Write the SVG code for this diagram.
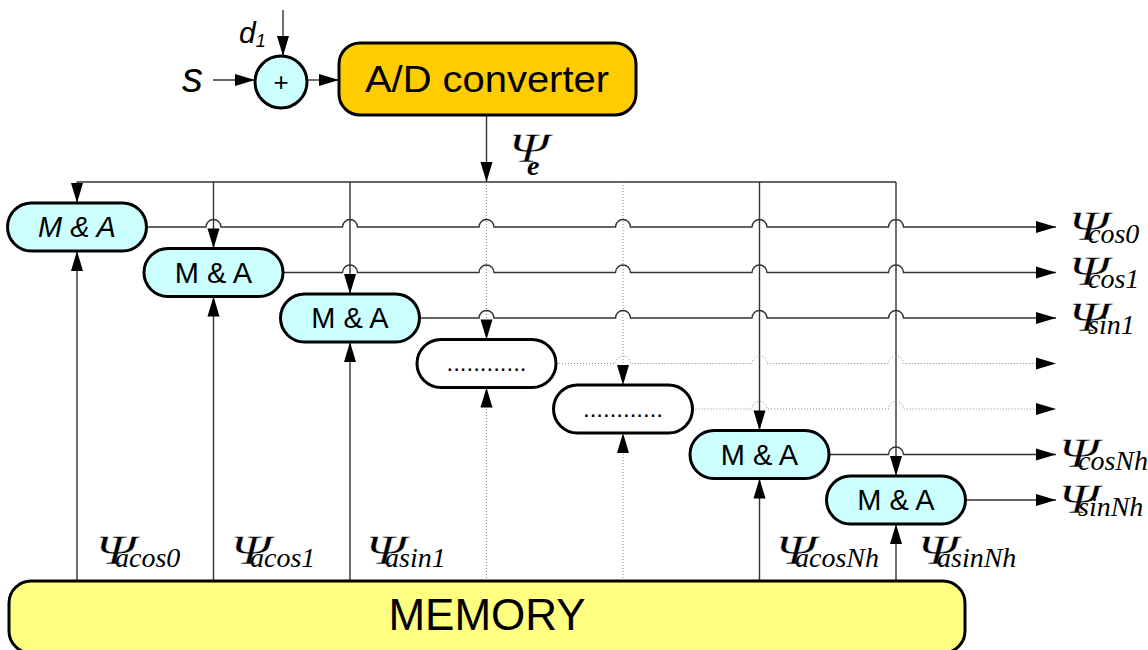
<svg xmlns="http://www.w3.org/2000/svg" width="1148" height="650" viewBox="0 0 1148 650">
<style>
.ln{fill:none;stroke:#333;stroke-width:1.4}
.dt{fill:none;stroke:#888;stroke-width:1;stroke-dasharray:1 2}
.box{stroke:#000;stroke-width:3}
.ma{fill:#CCFFFF}
.sans{font-family:"Liberation Sans",Arial,sans-serif;fill:#000}
.psi{font-family:"Liberation Serif","Times New Roman",serif;font-size:42px;fill:#000;stroke:#fff;stroke-width:0.4}
.sub{font-family:"Liberation Serif","Times New Roman",serif;font-style:italic;font-size:28px;fill:#000}
.mt{font-size:29px;text-anchor:middle}
</style>
<defs>
<marker id="ah" markerUnits="userSpaceOnUse" markerWidth="20" markerHeight="12" refX="20" refY="6" orient="auto" overflow="visible">
<path d="M0,0 L20,6 L0,12 z" fill="#000"/>
</marker>
</defs>
<rect width="1148" height="650" fill="#fff"/>

<g id="connectors">
<path class="ln" d="M213 80 L255 80" marker-end="url(#ah)"/>
<path class="ln" d="M283 10 L283 56" marker-end="url(#ah)"/>
<path class="ln" d="M307 80 L339 80" marker-end="url(#ah)"/>
<path class="ln" d="M486.5 115 L486.5 182" marker-end="url(#ah)"/>
<path class="ln" d="M77 182 L896 182"/>
<path class="ln" d="M77 182 L77 203" marker-end="url(#ah)"/>
<path class="ln" d="M213.5 182 L213.5 248.5" marker-end="url(#ah)"/>
<path class="ln" d="M350 182 L350 294" marker-end="url(#ah)"/>
<path class="dt" d="M486.5 182 L486.5 339.5" marker-end="url(#ah)"/>
<path class="dt" d="M623 182 L623 385" marker-end="url(#ah)"/>
<path class="ln" d="M759.5 182 L759.5 430.5" marker-end="url(#ah)"/>
<path class="ln" d="M896 182 L896 476" marker-end="url(#ah)"/>
<path class="ln" d="M77 581 L77 251" marker-end="url(#ah)"/>
<path class="ln" d="M213.5 581 L213.5 296.5" marker-end="url(#ah)"/>
<path class="ln" d="M350 581 L350 342" marker-end="url(#ah)"/>
<path class="dt" d="M486.5 581 L486.5 387.5" marker-end="url(#ah)"/>
<path class="dt" d="M623 581 L623 433" marker-end="url(#ah)"/>
<path class="ln" d="M759.5 581 L759.5 478.5" marker-end="url(#ah)"/>
<path class="ln" d="M896 581 L896 524" marker-end="url(#ah)"/>
<path class="ln" d="M146.5 227 L206 227 A7.5 7.5 0 0 1 221 227 L342.5 227 A7.5 7.5 0 0 1 357.5 227 L479 227 A7.5 7.5 0 0 1 494 227 L615.5 227 A7.5 7.5 0 0 1 630.5 227 L752 227 A7.5 7.5 0 0 1 767 227 L888.5 227 A7.5 7.5 0 0 1 903.5 227 L1056 227" marker-end="url(#ah)"/>
<path class="ln" d="M283 272.5 L342.5 272.5 A7.5 7.5 0 0 1 357.5 272.5 L479 272.5 A7.5 7.5 0 0 1 494 272.5 L615.5 272.5 A7.5 7.5 0 0 1 630.5 272.5 L752 272.5 A7.5 7.5 0 0 1 767 272.5 L888.5 272.5 A7.5 7.5 0 0 1 903.5 272.5 L1056 272.5" marker-end="url(#ah)"/>
<path class="ln" d="M419.5 318 L479 318 A7.5 7.5 0 0 1 494 318 L615.5 318 A7.5 7.5 0 0 1 630.5 318 L752 318 A7.5 7.5 0 0 1 767 318 L888.5 318 A7.5 7.5 0 0 1 903.5 318 L1056 318" marker-end="url(#ah)"/>
<path class="dt" d="M556 363.5 L615.5 363.5 A7.5 7.5 0 0 1 630.5 363.5 L752 363.5 A7.5 7.5 0 0 1 767 363.5 L888.5 363.5 A7.5 7.5 0 0 1 903.5 363.5 L1056 363.5" marker-end="url(#ah)"/>
<path class="dt" d="M692.5 409 L752 409 A7.5 7.5 0 0 1 767 409 L888.5 409 A7.5 7.5 0 0 1 903.5 409 L1056 409" marker-end="url(#ah)"/>
<path class="ln" d="M829 454.5 L888.5 454.5 A7.5 7.5 0 0 1 903.5 454.5 L1056 454.5" marker-end="url(#ah)"/>
<path class="ln" d="M965.5 500 L1056 500" marker-end="url(#ah)"/>
</g>

<g id="input-s"><text class="sans" x="182" y="92" font-size="42" font-style="italic">s</text></g>
<g id="input-d1"><text class="sans" x="239" y="43" font-size="30" font-style="italic">d<tspan font-size="18" dy="4">1</tspan></text></g>
<g id="sum"><circle cx="281" cy="82" r="26" fill="#CCFFFF" stroke="#000" stroke-width="3"/><text class="sans" x="281" y="91" font-size="26" text-anchor="middle">+</text></g>
<g id="adc"><rect class="box" x="339" y="43" width="297" height="72" rx="21" fill="#FFCC00"/><text class="sans" x="365" y="92" font-size="37" textLength="244" lengthAdjust="spacingAndGlyphs">A/D converter</text></g>
<g id="psi-e"><text class="psi" transform="translate(506,162) skewX(-14) scale(1.3,1)">Ψ</text><text class="sub" x="527" y="175" font-size="27" font-weight="bold">e</text></g>

<g id="ma0"><rect class="box ma" x="7.5" y="203" width="139" height="48" rx="24"/><text class="sans mt" x="77" y="237" font-style="italic">M &amp; A</text></g>
<g id="ma1"><rect class="box ma" x="144" y="248.5" width="139" height="48" rx="24"/><text class="sans mt" x="213.5" y="282.5">M &amp; A</text></g>
<g id="ma2"><rect class="box ma" x="280.5" y="294" width="139" height="48" rx="24"/><text class="sans mt" x="350" y="328">M &amp; A</text></g>
<g id="dots3"><rect class="box" x="417" y="339.5" width="139" height="48" rx="24" fill="#fff"/><text class="sans" x="486.5" y="371" font-size="24" text-anchor="middle">............</text></g>
<g id="dots4"><rect class="box" x="553.5" y="385" width="139" height="48" rx="24" fill="#fff"/><text class="sans" x="623" y="416.5" font-size="24" text-anchor="middle">............</text></g>
<g id="ma5"><rect class="box ma" x="690" y="430.5" width="139" height="48" rx="24"/><text class="sans mt" x="759.5" y="464.5">M &amp; A</text></g>
<g id="ma6"><rect class="box ma" x="826.5" y="476" width="139" height="48" rx="24"/><text class="sans mt" x="896" y="510">M &amp; A</text></g>

<g id="memory"><rect class="box" x="9" y="581" width="956" height="72" rx="22" fill="#FFFF80" stroke-width="3.5"/><text class="sans" x="487" y="630" font-size="44" text-anchor="middle">MEMORY</text></g>

<g id="out-labels">
<text class="psi" transform="translate(1066,240) skewX(-14) scale(1.3,1)">Ψ</text><text class="sub" x="1088" y="243">cos0</text>
<text class="psi" transform="translate(1066,285) skewX(-14) scale(1.3,1)">Ψ</text><text class="sub" x="1088" y="288">cos1</text>
<text class="psi" transform="translate(1066,331) skewX(-14) scale(1.3,1)">Ψ</text><text class="sub" x="1088" y="334">sin1</text>
<text class="psi" transform="translate(1056,467) skewX(-14) scale(1.3,1)">Ψ</text><text class="sub" x="1078" y="470">cosNh</text>
<text class="psi" transform="translate(1056,513) skewX(-14) scale(1.3,1)">Ψ</text><text class="sub" x="1078" y="516">sinNh</text>
</g>
<g id="in-labels">
<text class="psi" transform="translate(93,564) skewX(-14) scale(1.3,1)">Ψ</text><text class="sub" x="115" y="567">acos0</text>
<text class="psi" transform="translate(228,564) skewX(-14) scale(1.3,1)">Ψ</text><text class="sub" x="250" y="567">acos1</text>
<text class="psi" transform="translate(363,564) skewX(-14) scale(1.3,1)">Ψ</text><text class="sub" x="385" y="567">asin1</text>
<text class="psi" transform="translate(773,564) skewX(-14) scale(1.3,1)">Ψ</text><text class="sub" x="795" y="567">acosNh</text>
<text class="psi" transform="translate(915,564) skewX(-14) scale(1.3,1)">Ψ</text><text class="sub" x="937" y="567">asinNh</text>
</g>
</svg>
